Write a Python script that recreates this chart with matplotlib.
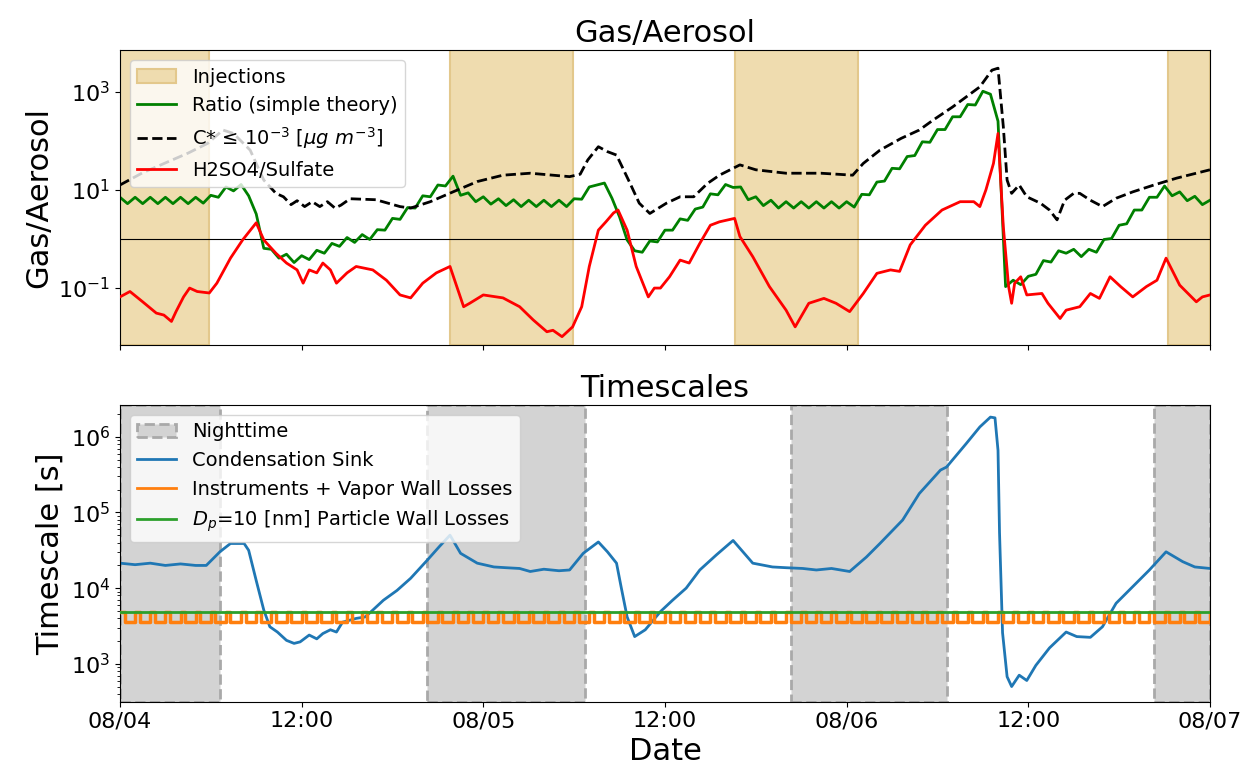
import numpy as np
import matplotlib
matplotlib.use("Agg")
import matplotlib.pyplot as plt
from matplotlib.patches import Patch
from matplotlib.lines import Line2D
from matplotlib.ticker import NullLocator

# ---------------- data (time in hours since 08/04 00:00) ----------------
tick_hours = [0, 12, 24, 36, 48, 60, 72]
tick_labels = ["08/04", "12:00", "08/05", "12:00", "08/06", "12:00", "08/07"]

injection_periods = [(0.0, 5.9), (21.8, 29.95), (40.6, 48.75), (69.2, 72.0)]
night_periods = [(0.0, 6.6), (20.3, 30.7), (44.3, 54.6), (68.3, 72.0)]

# H2SO4 / sulfate ratio: (hour, log10 value)
h2so4_sulfate = np.array([
    (0, -1.18), (0.66, -1.07), (1.5, -1.28), (2.4, -1.51), (2.9, -1.55),
    (3.4, -1.68), (3.7, -1.48), (4.2, -1.18), (4.6, -1.00), (5.1, -1.07),
    (5.9, -1.10), (6.4, -0.90), (7.3, -0.39), (8.1, -0.02), (9.0, 0.33),
    (9.5, -0.02), (10.3, -0.29), (11.0, -0.49), (11.7, -0.63), (12.1, -0.90),
    (12.5, -0.63), (13.0, -0.69), (13.4, -0.49), (13.9, -0.63), (14.3, -0.90),
    (15.0, -0.69), (15.6, -0.56), (16.7, -0.63), (17.6, -0.84), (18.5, -1.14),
    (19.2, -1.20), (20.0, -0.90), (20.9, -0.69), (21.8, -0.56), (22.7, -1.38),
    (23.1, -1.31), (24.0, -1.14), (25.3, -1.20), (26.4, -1.38), (27.3, -1.65),
    (28.2, -1.89), (28.6, -1.86), (29.2, -1.99), (29.9, -1.79), (30.5, -1.38),
    (31.0, -0.56), (31.6, 0.18), (32.1, 0.35), (32.6, 0.53), (32.9, 0.59),
    (33.5, 0.18), (34.1, -0.56), (34.9, -1.18), (35.3, -1.00), (35.7, -1.00),
    (36.3, -0.77), (37.0, -0.43), (37.6, -0.49), (38.3, -0.09), (39.0, 0.28),
    (39.6, 0.35), (40.6, 0.42), (40.95, 0.05), (41.8, -0.36), (42.9, -0.97),
    (44.0, -1.45), (44.6, -1.79), (45.5, -1.31), (46.5, -1.21), (47.3, -1.31),
    (48.2, -1.48), (49.1, -1.11), (50.0, -0.70), (50.9, -0.63), (51.5, -0.66),
    (52.2, -0.12), (53.2, 0.28), (54.3, 0.59), (55.5, 0.76), (56.4, 0.76),
    (56.8, 0.66), (57.2, 1.00), (57.7, 1.54), (58.0, 2.15), (58.35, 0.25),
    (58.7, -0.97), (58.9, -1.31), (59.1, -0.90), (59.5, -0.77), (59.9, -1.14),
    (60.9, -1.11), (61.3, -1.31), (62.1, -1.62), (62.5, -1.45), (63.4, -1.38),
    (64.1, -1.11), (64.7, -1.21), (65.4, -0.77), (66.1, -0.97), (66.9, -1.18),
    (67.8, -0.97), (68.5, -0.84), (69.1, -0.39), (70.0, -0.94), (71.1, -1.28),
    (71.5, -1.18), (72.0, -1.14),
])

# Gas/aerosol ratio for C* <= 1e-3 ug m-3: (hour, log10 value)
cstar_ratio = np.array([
    (0, 1.10), (1.5, 1.35), (3.0, 1.55), (4.5, 1.75), (5.8, 1.95),
    (6.8, 2.22), (7.5, 2.15), (8.6, 1.81), (9.5, 1.20), (10.3, 0.93),
    (10.8, 0.86), (11.3, 0.70), (11.7, 0.78), (12.2, 0.66), (12.7, 0.76),
    (13.2, 0.66), (13.7, 0.76), (14.2, 0.63), (14.6, 0.69), (15.2, 0.82),
    (16.9, 0.80), (18.5, 0.66), (19.2, 0.63), (20.5, 0.76), (22.0, 0.96),
    (23.6, 1.17), (25.3, 1.30), (27.1, 1.34), (29.7, 1.27), (30.4, 1.32),
    (30.9, 1.61), (31.6, 1.88), (32.2, 1.78), (32.8, 1.71), (33.7, 1.13),
    (34.3, 0.73), (35.0, 0.52), (36.1, 0.73), (37.0, 0.86), (37.9, 0.86),
    (38.8, 1.13), (39.6, 1.30), (40.95, 1.51), (42.0, 1.41), (44.0, 1.34),
    (46.3, 1.34), (48.4, 1.30), (49.1, 1.54), (50.2, 1.81), (51.6, 2.05),
    (52.8, 2.22), (53.7, 2.42), (55.0, 2.69), (56.8, 3.10), (57.6, 3.44),
    (58.0, 3.48), (58.35, 2.29), (58.6, 1.20), (58.9, 0.93), (59.4, 1.10),
    (59.9, 0.86), (60.8, 0.73), (61.4, 0.59), (61.9, 0.39), (62.4, 0.79),
    (63.0, 0.93), (63.4, 0.93), (64.1, 0.79), (64.9, 0.66), (65.8, 0.83),
    (66.9, 0.96), (68.3, 1.10), (69.8, 1.24), (72.0, 1.41),
])

# Simple-theory ratio, half-hourly (log10 value), hours 0 .. 72
ratio_hours = np.arange(0, 72.01, 0.5)
ratio_log = [
    .85, .72, .85, .72, .85, .72, .85, .72, .85, .72, .85, .73,
    .89, .85, 1.06, .98, 1.11, .88, .51, -.19, -.21, -.39, -.31, -.48,
    -.34, -.42, -.23, -.29, -.09, -.15, .03, -.07, .09, -.01, .19, .18,
    .42, .40, .64, .63, .88, .86, 1.10, 1.08, 1.28, .89, .94, .76,
    .86, .71, .82, .68, .80, .66, .79, .66, .79, .66, .79, .66,
    .82, .81, 1.06, 1.10, 1.14, .83, .45, -.02, -.24, -.27, -.04, -.06,
    .18, .18, .41, .38, .61, .65, .92, .90, 1.11, 1.05, 1.06, .80,
    .86, .68, .79, .63, .76, .63, .76, .63, .76, .63, .76, .63,
    .76, .65, .91, .90, 1.16, 1.18, 1.44, 1.43, 1.68, 1.70, 1.98, 1.97,
    2.23, 2.23, 2.49, 2.49, 2.74, 2.73, 3.01, 2.95, 2.40, -0.97, -.84, -.93,
    -.76, -.72, -.44, -.47, -.24, -.29, -.21, -.36, -.21, -.27, -.01, .01,
    .28, .31, .59, .59, .85, .85, 1.08, .88, .96, .78, .87, .70,
    .79,
]

# Condensation sink timescale: (hour, log10 seconds)
cs_timescale = np.array([
    (0, 4.33), (1, 4.31), (2, 4.33), (3, 4.30), (4, 4.32), (5, 4.30),
    (5.7, 4.30), (6.6, 4.48), (7.3, 4.59), (8.2, 4.59), (8.5, 4.50),
    (9.0, 4.10), (9.5, 3.71), (9.9, 3.49), (10.4, 3.42), (11.0, 3.31),
    (11.5, 3.27), (11.9, 3.29), (12.5, 3.38), (13.0, 3.33), (13.4, 3.40),
    (13.9, 3.45), (14.3, 3.42), (14.7, 3.55), (15.6, 3.60), (16.2, 3.62),
    (16.7, 3.71), (17.4, 3.84), (18.3, 3.97), (19.2, 4.13), (20.3, 4.37),
    (21.1, 4.55), (21.8, 4.70), (22.5, 4.46), (23.6, 4.33), (24.7, 4.28),
    (25.5, 4.27), (26.4, 4.26), (27.1, 4.22), (28.0, 4.25), (29.0, 4.23),
    (29.7, 4.24), (30.6, 4.46), (31.6, 4.61), (32.2, 4.48), (32.8, 4.33),
    (33.1, 4.02), (33.5, 3.62), (34.0, 3.36), (34.7, 3.45), (35.7, 3.69),
    (36.5, 3.84), (37.4, 4.00), (38.3, 4.24), (39.4, 4.44), (40.5, 4.63),
    (41.8, 4.33), (43.1, 4.28), (44.0, 4.27), (45.1, 4.26), (46.0, 4.24),
    (47.0, 4.26), (48.2, 4.22), (49.3, 4.41), (50.2, 4.59), (51.7, 4.90),
    (52.8, 5.25), (54.2, 5.56), (54.6, 5.60), (55.9, 5.91), (56.8, 6.13),
    (57.5, 6.26), (57.8, 6.25), (58.0, 5.82), (58.1, 4.73), (58.3, 3.41),
    (58.6, 2.83), (58.9, 2.70), (59.4, 2.85), (59.9, 2.78), (60.5, 2.98),
    (61.4, 3.21), (62.5, 3.42), (63.2, 3.36), (64.1, 3.35), (64.9, 3.49),
    (65.8, 3.80), (66.9, 4.02), (68.0, 4.24), (69.1, 4.48), (70.2, 4.35),
    (71.0, 4.28), (72.0, 4.26),
])

# Instrument + vapor wall loss timescale [s]: hourly valve cycle
inst_cycle_levels = [4900, 3600]      # start of hour, rest of hour
inst_cycle_offsets = [0.0, 0.3]       # hours into each cycle
particle_wall_loss = 4900             # Dp = 10 nm, seconds

# ---------------- figure ----------------
fig = plt.figure(figsize=(12.42, 7.72), dpi=100)
ax1 = fig.add_axes([0.0966, 0.5531, 0.8776, 0.3821])
ax2 = fig.add_axes([0.0966, 0.0911, 0.8776, 0.3843], sharex=ax1)

inj_face = "#EFDCAF"
inj_edge = "#E3C88C"

# --- top panel: gas/aerosol ratios ---
for a, b in injection_periods:
    ax1.axvspan(a, b, facecolor=inj_face, edgecolor=inj_edge, lw=1.5, zorder=0)

ax1.axhline(1, color="black", lw=0.8, zorder=1)
ax1.plot(ratio_hours, 10 ** np.array(ratio_log), color="green", lw=2, zorder=2)
ax1.plot(cstar_ratio[:, 0], 10 ** cstar_ratio[:, 1], "k--", lw=2, zorder=3)
ax1.plot(h2so4_sulfate[:, 0], 10 ** h2so4_sulfate[:, 1], color="red", lw=2, zorder=4)

ax1.set_yscale("log")
ax1.set_ylim(10 ** -2.16, 10 ** 3.85)
ax1.set_yticks([1e-1, 1e1, 1e3])
ax1.yaxis.set_minor_locator(NullLocator())
ax1.set_ylabel("Gas/Aerosol", fontsize=22)
ax1.set_title("Gas/Aerosol", fontsize=22)
ax1.tick_params(labelbottom=False, labelsize=16)

top_handles = [
    Patch(facecolor=inj_face, edgecolor=inj_edge, lw=1.5),
    Line2D([], [], color="green", lw=2),
    Line2D([], [], color="black", ls="--", lw=2),
    Line2D([], [], color="red", lw=2),
]
top_labels = [
    "Injections",
    "Ratio (simple theory)",
    "C* \u2264 $10^{-3}$ [$\\mu g\\ m^{-3}$]",
    "H2SO4/Sulfate",
]
ax1.legend(top_handles, top_labels, loc="upper left", fontsize=14)

# --- bottom panel: timescales ---
for a, b in night_periods:
    ax2.axvspan(a, b, facecolor="lightgray", edgecolor="darkgray",
                ls="--", lw=2, zorder=0)

hours = np.arange(72)
inst_t = np.append((hours[:, None] + np.array(inst_cycle_offsets)).ravel(), 72)
inst_v = np.append(np.tile(inst_cycle_levels, len(hours)), inst_cycle_levels[0])

ax2.plot(cs_timescale[:, 0], 10 ** cs_timescale[:, 1], color="C0", lw=2, zorder=2)
ax2.step(inst_t, inst_v, where="post", color="C1", lw=2.5, zorder=3)
ax2.axhline(particle_wall_loss, color="C2", lw=2, zorder=4)

ax2.set_yscale("log")
ax2.set_ylim(10 ** 2.5, 10 ** 6.42)
ax2.set_ylabel("Timescale [s]", fontsize=22)
ax2.set_xlabel("Date", fontsize=22)
ax2.set_title("Timescales", fontsize=22)
ax2.tick_params(labelsize=16)

ax2.set_xlim(0, 72)
ax2.set_xticks(tick_hours)
ax2.set_xticklabels(tick_labels)

bottom_handles = [
    Patch(facecolor="lightgray", edgecolor="darkgray", ls="--", lw=2),
    Line2D([], [], color="C0", lw=2),
    Line2D([], [], color="C1", lw=2),
    Line2D([], [], color="C2", lw=2),
]
bottom_labels = [
    "Nighttime",
    "Condensation Sink",
    "Instruments + Vapor Wall Losses",
    "$D_p$=10 [nm] Particle Wall Losses",
]
ax2.legend(bottom_handles, bottom_labels, loc="upper left", fontsize=14)

fig.savefig("out.png", dpi=100)
